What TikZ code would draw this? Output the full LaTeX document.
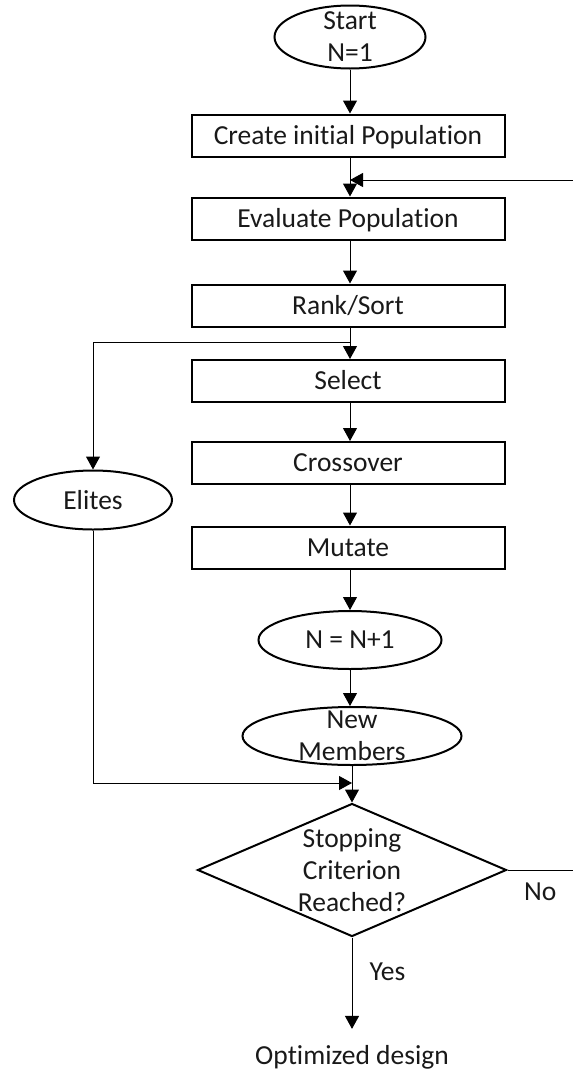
\documentclass[tikz,border=0pt]{standalone}
\usepackage{fontspec}
\setmainfont{Carlito}[Ligatures=NoCommon]
\usetikzlibrary{arrows.meta,shapes.geometric}
\definecolor{lineCol}{RGB}{0,0,0}
\definecolor{textCol}{RGB}{25,25,25}
\tikzset{
  base/.style={font=\fontsize{27.5}{32}\selectfont,text=textCol},
  stepbox/.style={base,rectangle,draw=lineCol,line width=2pt,
    minimum width=313pt,minimum height=42pt,inner sep=0pt,
    text height=17.5pt,text depth=0pt},
  oval/.style={ellipse,draw=lineCol,line width=2pt,inner sep=0pt},
  decision/.style={diamond,draw=lineCol,line width=2pt,inner sep=0pt,
    minimum width=309pt,minimum height=133pt},
  inner/.style={base,align=center,inner sep=0pt},
  lbl/.style={base,inner sep=2pt},
  arr/.style={-{Triangle[length=13pt,width=14pt]},line width=1pt,
    color=lineCol},
  wire/.style={line width=1pt,color=lineCol},
}

\begin{document}
\begin{tikzpicture}[x=1pt,y=-1pt]
\useasboundingbox (0,0) rectangle (573,1074);

% =====================================================================
%  MAIN COLUMN
% =====================================================================
\node[oval,minimum width=151pt,minimum height=63pt,
  label={[inner]center:Start\\N=1}] (start) at (350,37) {};
\node[stepbox] (create) at (348,135.5) {Create initial Population};
\node[stepbox] (eval)   at (348,218.5) {Evaluate Population};
\node[stepbox] (rank)   at (348,305.5) {Rank/Sort};
\node[stepbox] (select) at (348,381)   {Select};
\node[stepbox] (cross)  at (348,463)   {Crossover};
\node[stepbox] (mutate) at (348,547.5) {Mutate};
\node[oval,minimum width=183pt,minimum height=58pt,
  label={[inner]center:N = N+1}] (ninc) at (350,640) {};
\node[oval,minimum width=219pt,minimum height=58pt,
  label={[inner]center:New\\Members}] (newm) at (352,736) {};
\node[decision,
  label={[inner]center:Stopping\\Criterion\\Reached?}] (stop) at (352,870) {};
\node[lbl] (opt) at (352,1057) {Optimized design};

% --- Elites (left) ---
\node[oval,minimum width=158pt,minimum height=59pt,
  label={[inner]center:Elites}] (elites) at (93,500) {};

% --- junction points ---
\coordinate (split) at (350,342);
\coordinate (merge) at (352,783);
\coordinate (loopIn) at (573,180);
\coordinate (noOut) at (573,870);

% ----- Arrows down the column -----
\draw[arr] (start.south) -- (start.south |- create.north);
\draw[arr] (create.south -| start.south) -- (start.south |- eval.north);
\draw[arr] (eval.south -| start.south) -- (start.south |- rank.north);
\draw[arr] (rank.south -| split) -- (split |- select.north);
\draw[arr] (select.south -| split) -- (split |- cross.north);
\draw[arr] (cross.south -| split) -- (split |- mutate.north);
\draw[arr] (mutate.south -| ninc.north) -- (ninc.north);
\draw[arr] (ninc.south) -- (ninc.south |- newm.north);
\draw[wire] (newm.south) -- (merge);
\draw[arr] (merge) -- (stop.north);

% Rank/Sort -> Elites -> Stopping
\draw[arr] (split) -| (elites.north);
\draw[arr] (elites.south) |- (merge);

% Loop back (No) -- ends leave the page on the right
\draw[wire] (stop.east) -- node[lbl,below=10pt] {No} (noOut);
\draw[arr] (loopIn) -- (loopIn -| start.south);

% Yes -> Optimized design
\draw[arr] (stop.south) -- node[lbl,right=15pt,pos=0.38] {Yes}
  ([yshift=14pt]opt.north);

\end{tikzpicture}
\end{document}
